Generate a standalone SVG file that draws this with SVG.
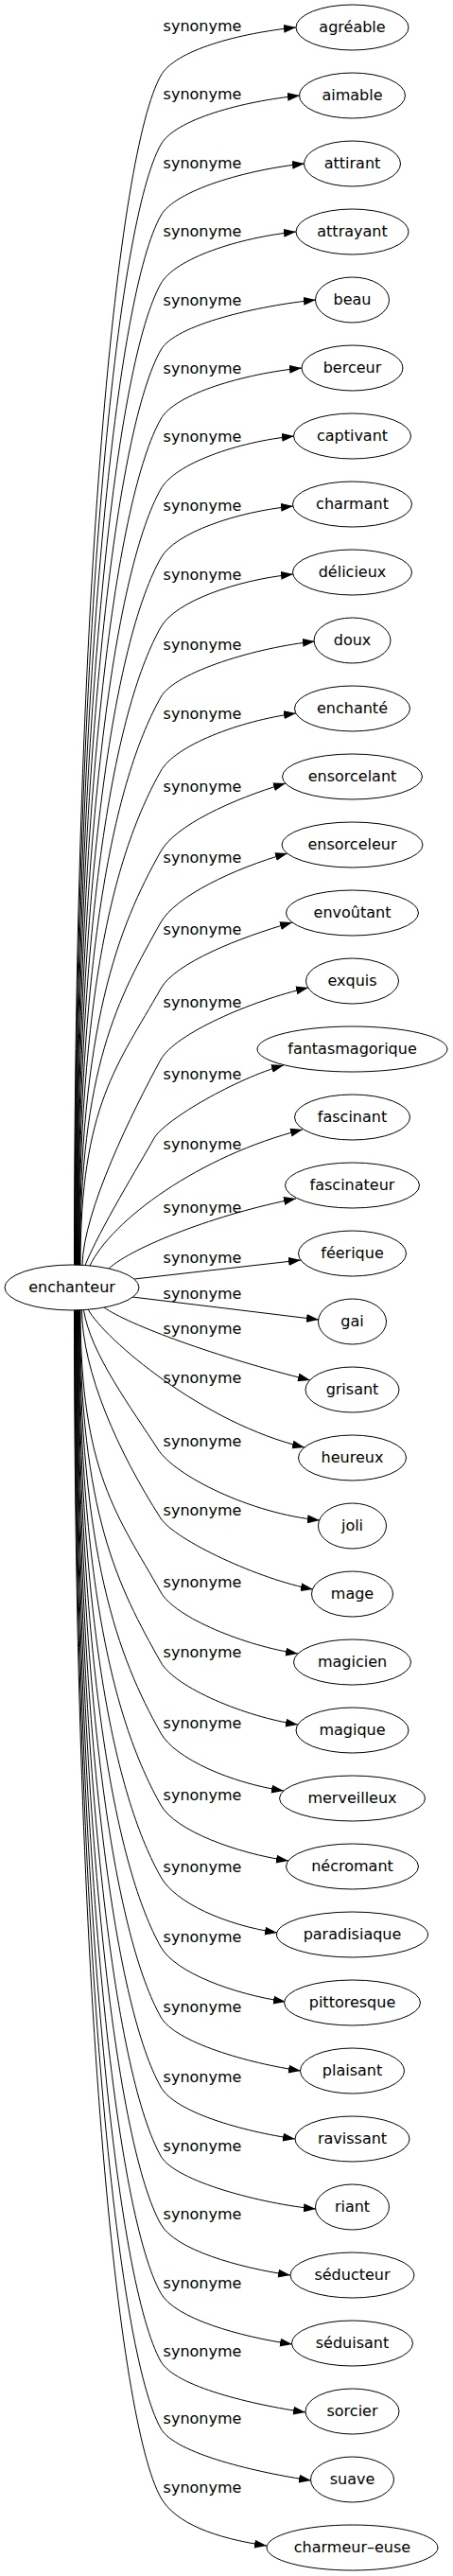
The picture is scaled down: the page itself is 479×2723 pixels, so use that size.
<svg xmlns="http://www.w3.org/2000/svg" width="479" height="2723" viewBox="0 0 479 2723">
<style>
.n ellipse{fill:#fff;stroke:#000;stroke-width:1}
text{font-family:"DejaVu Sans","Liberation Sans",sans-serif;font-size:16px;fill:#000;text-anchor:middle}
.e path{fill:none;stroke:#000;stroke-width:1;marker-end:url(#arr)}
</style>
<defs>
<marker id="arr" markerWidth="13" markerHeight="9" refX="13" refY="4.5" orient="auto" markerUnits="userSpaceOnUse"><path d="M0,0 L13,4.5 L0,9 Z" fill="#000"/></marker>
</defs>
<rect width="479" height="2723" fill="#fff"/>
<g id="connectors" class="e">
<path d="M78.5,1337.5 C78.5,608.2 125,160 170,80 C185,53 253,35 313,29"/>
<path d="M79,1337.5 C79,650.5 125,233 170,153 C185,126 257,107 317,101"/>
<path d="M79.5,1337.5 C79.5,694 125,308 170,228 C185,201 262,179 322,173"/>
<path d="M80,1337.5 C80,735.8 125,380 170,300 C185,273 253,251 313,245"/>
<path d="M80.5,1337.5 C80.5,776.4 125,450 170,370 C185,343 274,323 334,317"/>
<path d="M81,1337.5 C81,818.7 125,523 170,443 C185,416 259,395 319,389"/>
<path d="M81.5,1337.5 C81.5,861.6 125,597 170,517 C185,490 251,467 311,461"/>
<path d="M82,1337.5 C82,904 125,670 170,590 C185,563 250,541 310,535"/>
<path d="M82.5,1337.5 C82.5,946.3 125,743 170,663 C185,636 250,613 310,607"/>
<path d="M83,1337.5 C83,989.2 125,817 170,737 C185,710 273,684 333,678"/>
<path d="M83.5,1337.5 C83.5,1034.5 125,895 170,815 C185,788 253,762 313,754"/>
<path d="M84,1337.5 C84,1083.8 125,980 170,900 C185,873 245,845 302,828"/>
<path d="M84.5,1337.5 C84.5,1127.3 125,1055 170,975 C185,948 247,918 304,902"/>
<path d="M85,1337.5 C85,1167.9 125,1125 170,1045 C185,1018 253,991 309,975"/>
<path d="M87,1337.5 C88,1280 140,1175 170,1120 C185,1093 265,1058 326,1044"/>
<path d="M90,1337.5 C105,1300 148,1230 163,1203 C175,1183 250,1140 300,1126"/>
<path d="M95,1338 C118,1290 210,1222 320,1194"/>
<path d="M115,1341 C140,1318 230,1283 313,1267"/>
<path d="M142,1352 L318,1332"/>
<path d="M140,1371 L337,1395"/>
<path d="M110,1382 C135,1400 230,1435 328,1459"/>
<path d="M93,1384 C110,1415 215,1505 322,1530"/>
<path d="M88.5,1384.5 C95,1430 140,1490 167,1532 C185,1560 265,1600 338,1607"/>
<path d="M86.5,1384.5 C87,1450 125,1535 170,1605 C185,1628 275,1670 331,1680"/>
<path d="M85,1384.5 C85,1557.6 125,1603 170,1683 C185,1710 260,1740 315,1748"/>
<path d="M84.5,1384.5 C84.5,1600.6 125,1677 170,1757 C185,1784 260,1815 315,1823"/>
<path d="M84,1384.5 C84,1644.1 125,1752 170,1832 C185,1859 245,1885 300,1893"/>
<path d="M83.5,1384.5 C83.5,1688.1 125,1828 170,1908 C185,1935 250,1959 305,1967"/>
<path d="M83,1384.5 C83,1732.2 125,1904 170,1984 C185,2011 238,2035 293,2043"/>
<path d="M82.5,1384.5 C82.5,1775.1 125,1978 170,2058 C185,2085 247,2108 302,2116"/>
<path d="M82,1384.5 C82,1818.1 125,2052 170,2132 C185,2159 263,2181 318,2189"/>
<path d="M81.5,1384.5 C81.5,1861 125,2126 170,2206 C185,2233 257,2253 312,2261"/>
<path d="M81,1384.5 C81,1903.3 125,2199 170,2279 C185,2306 279,2330 334,2335"/>
<path d="M80.5,1384.5 C80.5,1945.1 125,2271 170,2351 C185,2378 252,2397 307,2405"/>
<path d="M80,1384.5 C80,1987.4 125,2344 170,2424 C185,2451 254,2470 309,2478"/>
<path d="M79.5,1384.5 C79.5,2029.2 125,2416 170,2496 C185,2523 268,2542 323,2550"/>
<path d="M79,1384.5 C79,2070.4 125,2487 170,2567 C185,2594 274,2614 329,2622"/>
<path d="M78.5,1384.5 C78.5,2112.7 125,2560 170,2640 C185,2667 227,2683 282,2691"/>
<g id="edge-labels">
<text x="214" y="32.5">synonyme</text>
<text x="214" y="104.5">synonyme</text>
<text x="214" y="177.5">synonyme</text>
<text x="214" y="249.5">synonyme</text>
<text x="214" y="322.5">synonyme</text>
<text x="214" y="394.5">synonyme</text>
<text x="214" y="466.5">synonyme</text>
<text x="214" y="539.5">synonyme</text>
<text x="214" y="612.5">synonyme</text>
<text x="214" y="686.5">synonyme</text>
<text x="214" y="759.5">synonyme</text>
<text x="214" y="836.5">synonyme</text>
<text x="214" y="911.5">synonyme</text>
<text x="214" y="987.5">synonyme</text>
<text x="214" y="1064.5">synonyme</text>
<text x="214" y="1140.5">synonyme</text>
<text x="214" y="1214.5">synonyme</text>
<text x="214" y="1281.5">synonyme</text>
<text x="214" y="1334.5">synonyme</text>
<text x="214" y="1372.5">synonyme</text>
<text x="214" y="1409.5">synonyme</text>
<text x="214" y="1461.5">synonyme</text>
<text x="214" y="1528.5">synonyme</text>
<text x="214" y="1601.5">synonyme</text>
<text x="214" y="1677.5">synonyme</text>
<text x="214" y="1751.5">synonyme</text>
<text x="214" y="1826.5">synonyme</text>
<text x="214" y="1902.5">synonyme</text>
<text x="214" y="1978.5">synonyme</text>
<text x="214" y="2052.5">synonyme</text>
<text x="214" y="2126.5">synonyme</text>
<text x="214" y="2200.5">synonyme</text>
<text x="214" y="2273.5">synonyme</text>
<text x="214" y="2345.5">synonyme</text>
<text x="214" y="2418.5">synonyme</text>
<text x="214" y="2490.5">synonyme</text>
<text x="214" y="2561.5">synonyme</text>
<text x="214" y="2634.5">synonyme</text>
</g>
</g>
<g id="n-enchanteur" class="n"><ellipse cx="76" cy="1361" rx="71" ry="24"/><text x="76" y="1366">enchanteur</text></g>
<g id="n-agreable" class="n"><ellipse cx="372.5" cy="29" rx="59.5" ry="24"/><text x="372.5" y="34">agréable</text></g>
<g id="n-aimable" class="n"><ellipse cx="372.5" cy="101" rx="56" ry="24"/><text x="372.5" y="106">aimable</text></g>
<g id="n-attirant" class="n"><ellipse cx="372.5" cy="173" rx="51" ry="24"/><text x="372.5" y="178">attirant</text></g>
<g id="n-attrayant" class="n"><ellipse cx="372.5" cy="245" rx="59.5" ry="24"/><text x="372.5" y="250">attrayant</text></g>
<g id="n-beau" class="n"><ellipse cx="372.5" cy="317" rx="39" ry="24"/><text x="372.5" y="322">beau</text></g>
<g id="n-berceur" class="n"><ellipse cx="372.5" cy="389" rx="53.5" ry="24"/><text x="372.5" y="394">berceur</text></g>
<g id="n-captivant" class="n"><ellipse cx="372.5" cy="461" rx="62" ry="24"/><text x="372.5" y="466">captivant</text></g>
<g id="n-charmant" class="n"><ellipse cx="372.5" cy="533" rx="63" ry="24"/><text x="372.5" y="538">charmant</text></g>
<g id="n-delicieux" class="n"><ellipse cx="372.5" cy="605" rx="63" ry="24"/><text x="372.5" y="610">délicieux</text></g>
<g id="n-doux" class="n"><ellipse cx="372.5" cy="677" rx="40.5" ry="24"/><text x="372.5" y="682">doux</text></g>
<g id="n-enchante" class="n"><ellipse cx="372.5" cy="749" rx="61" ry="24"/><text x="372.5" y="754">enchanté</text></g>
<g id="n-ensorcelant" class="n"><ellipse cx="372.5" cy="821" rx="74" ry="24"/><text x="372.5" y="826">ensorcelant</text></g>
<g id="n-ensorceleur" class="n"><ellipse cx="372.5" cy="893" rx="74.5" ry="24"/><text x="372.5" y="898">ensorceleur</text></g>
<g id="n-envoutant" class="n"><ellipse cx="372.5" cy="965" rx="70" ry="24"/><text x="372.5" y="970">envoûtant</text></g>
<g id="n-exquis" class="n"><ellipse cx="372.5" cy="1037" rx="49" ry="24"/><text x="372.5" y="1042">exquis</text></g>
<g id="n-fantasmagorique" class="n"><ellipse cx="372.5" cy="1109" rx="100.5" ry="24"/><text x="372.5" y="1114">fantasmagorique</text></g>
<g id="n-fascinant" class="n"><ellipse cx="372.5" cy="1181" rx="61" ry="24"/><text x="372.5" y="1186">fascinant</text></g>
<g id="n-fascinateur" class="n"><ellipse cx="372.5" cy="1253" rx="71" ry="24"/><text x="372.5" y="1258">fascinateur</text></g>
<g id="n-feerique" class="n"><ellipse cx="372.5" cy="1325" rx="57" ry="24"/><text x="372.5" y="1330">féerique</text></g>
<g id="n-gai" class="n"><ellipse cx="372.5" cy="1397" rx="36" ry="24"/><text x="372.5" y="1402">gai</text></g>
<g id="n-grisant" class="n"><ellipse cx="372.5" cy="1469" rx="49.5" ry="24"/><text x="372.5" y="1474">grisant</text></g>
<g id="n-heureux" class="n"><ellipse cx="372.5" cy="1541" rx="57" ry="24"/><text x="372.5" y="1546">heureux</text></g>
<g id="n-joli" class="n"><ellipse cx="372.5" cy="1613" rx="36" ry="24"/><text x="372.5" y="1618">joli</text></g>
<g id="n-mage" class="n"><ellipse cx="372.5" cy="1685" rx="43" ry="24"/><text x="372.5" y="1690">mage</text></g>
<g id="n-magicien" class="n"><ellipse cx="372.5" cy="1757" rx="62" ry="24"/><text x="372.5" y="1762">magicien</text></g>
<g id="n-magique" class="n"><ellipse cx="372.5" cy="1829" rx="59.5" ry="24"/><text x="372.5" y="1834">magique</text></g>
<g id="n-merveilleux" class="n"><ellipse cx="372.5" cy="1901" rx="77" ry="24"/><text x="372.5" y="1906">merveilleux</text></g>
<g id="n-necromant" class="n"><ellipse cx="372.5" cy="1973" rx="70" ry="24"/><text x="372.5" y="1978">nécromant</text></g>
<g id="n-paradisiaque" class="n"><ellipse cx="372.5" cy="2045" rx="80" ry="24"/><text x="372.5" y="2050">paradisiaque</text></g>
<g id="n-pittoresque" class="n"><ellipse cx="372.5" cy="2117" rx="72" ry="24"/><text x="372.5" y="2122">pittoresque</text></g>
<g id="n-plaisant" class="n"><ellipse cx="372.5" cy="2189" rx="55" ry="24"/><text x="372.5" y="2194">plaisant</text></g>
<g id="n-ravissant" class="n"><ellipse cx="372.5" cy="2261" rx="60.5" ry="24"/><text x="372.5" y="2266">ravissant</text></g>
<g id="n-riant" class="n"><ellipse cx="372.5" cy="2333" rx="39" ry="24"/><text x="372.5" y="2338">riant</text></g>
<g id="n-seducteur" class="n"><ellipse cx="372.5" cy="2405" rx="65.5" ry="24"/><text x="372.5" y="2410">séducteur</text></g>
<g id="n-seduisant" class="n"><ellipse cx="372.5" cy="2477" rx="64" ry="24"/><text x="372.5" y="2482">séduisant</text></g>
<g id="n-sorcier" class="n"><ellipse cx="372.5" cy="2549" rx="49.5" ry="24"/><text x="372.5" y="2554">sorcier</text></g>
<g id="n-suave" class="n"><ellipse cx="372.5" cy="2621" rx="44" ry="24"/><text x="372.5" y="2626">suave</text></g>
<g id="n-charmeur-euse" class="n"><ellipse cx="372.5" cy="2693" rx="90.5" ry="24"/><text x="372.5" y="2698">charmeur–euse</text></g>
</svg>
